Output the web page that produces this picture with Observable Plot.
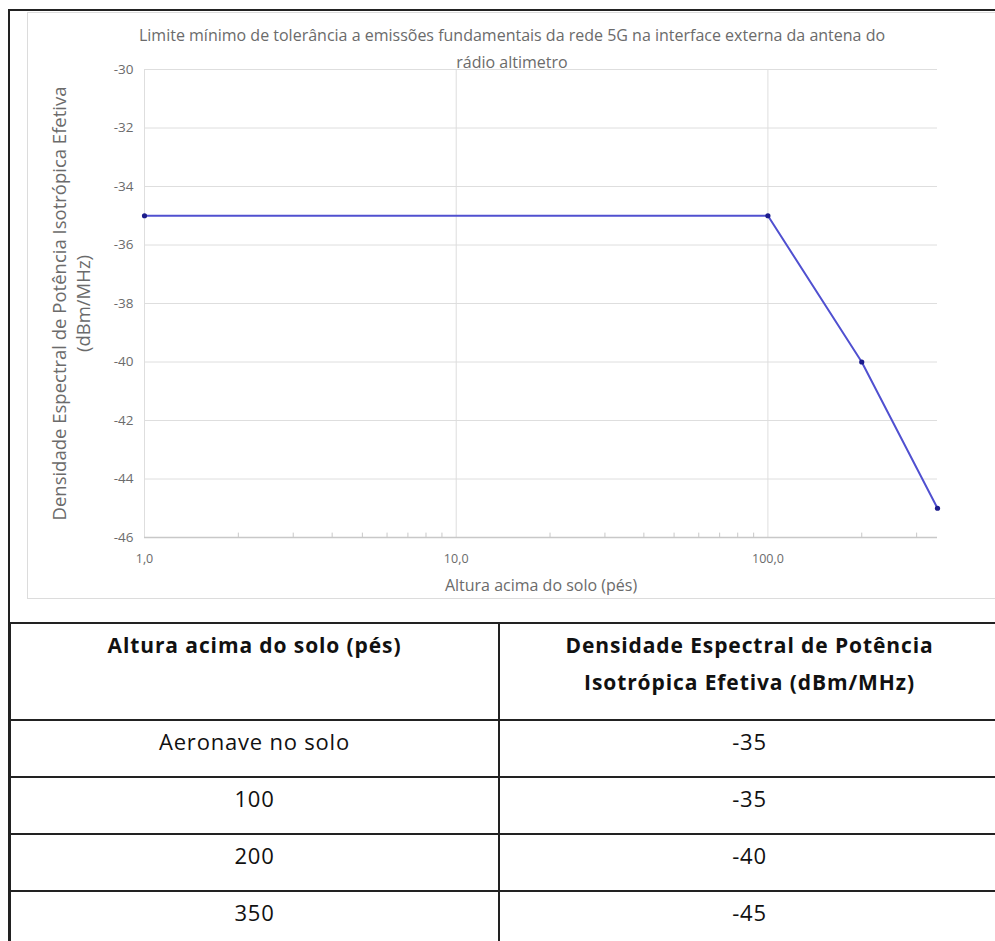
<!DOCTYPE html>
<html>
<head>
<meta charset="utf-8">
<script src="https://cdn.jsdelivr.net/npm/d3@7"></script>
<script src="https://cdn.jsdelivr.net/npm/@observablehq/plot@0.6"></script>
<style>
  html, body { margin: 0; padding: 0; background: #fff; }
  body { width: 995px; height: 941px; overflow: hidden; position: relative; font-family: "Open Sans", "Noto Sans", sans-serif; }
  #frame { position: absolute; left: 8px; top: 9px; width: 1000px; height: 940px; border-top: 2px solid #222; border-left: 2px solid #222; }
  #chartbox { position: absolute; left: 27px; top: 12px; width: 975px; height: 585px; border: 1.5px solid #dcdcdc; }
  #chart { position: absolute; left: 0; top: 0; }
  #tbl { position: absolute; left: 9px; top: 622px; width: 990px; border-collapse: collapse; table-layout: fixed; color: #111; }
  #tbl td, #tbl th { border: 2px solid #222; text-align: center; vertical-align: top; padding: 0; }
  #tbl th { font-weight: 700; font-size: 21px; letter-spacing: 0.9px; line-height: 37px; padding-top: 3px; height: 92px; }
  #tbl td { font-size: 22px; letter-spacing: 0.8px; line-height: 30px; padding-top: 5px; height: 50px; }
</style>
</head>
<body>
<div id="frame"></div>
<div id="chartbox"></div>
<div id="chart"></div>
<table id="tbl"></table>
<script>
// ---- data ----
const heights = [1, 100, 200, 350];               // feet (ground = 1 on log axis)
const heightLabels = ["Aeronave no solo", "100", "200", "350"];
const psd = [-35, -35, -40, -45];                  // dBm/MHz
const xTicks = [1, 10, 100];
const xTickLabels = ["1,0", "10,0", "100,0"];
const xMinorTicks = [2, 3, 4, 5, 6, 7, 8, 9, 20, 30, 40, 50, 60, 70, 80, 90, 200, 300];
const yTicks = [-30, -32, -34, -36, -38, -40, -42, -44, -46];
const titleLines = ["Limite mínimo de tolerância a emissões fundamentais da rede 5G na interface externa da antena do", "rádio altimetro"];
const yLabel = "Densidade Espectral de Potência Isotrópica Efetiva\n(dBm/MHz)";
const xLabel = "Altura acima do solo (pés)";
const colHeaders = ["Altura acima do solo (pés)", "Densidade Espectral de Potência<br>Isotrópica Efetiva (dBm/MHz)"];

const data = heights.map((h, i) => ({h, v: psd[i]}));
const gray = "#6b6b6b";

const plot = Plot.plot({
  width: 995,
  height: 620,
  marginLeft: 144,
  marginRight: 58,
  marginTop: 69,
  marginBottom: 83,
  style: {fontFamily: "Open Sans, Noto Sans, sans-serif", background: "transparent", overflow: "visible"},
  x: {type: "log", domain: [1, 350], label: null},
  y: {domain: [-46, -30], label: null},
  marks: [
    Plot.gridY(yTicks, {stroke: "#dedede", strokeOpacity: 1}),
    Plot.gridX(xTicks, {stroke: "#dedede", strokeOpacity: 1}),
    Plot.ruleY([-46], {stroke: "#c8c8c8", strokeWidth: 1.5}),
    Plot.ruleX(xMinorTicks, {y1: -46, y2: -45.85, stroke: "#c8c8c8"}),
    Plot.axisY(yTicks, {tickSize: 0, tickPadding: 11, fontSize: 13.5, fill: gray, label: null, tickFormat: d => String(d)}),
    Plot.axisX(xTicks, {tickSize: 0, tickPadding: 17, fontSize: 12.5, fill: gray, label: null, tickFormat: d => xTickLabels[xTicks.indexOf(d)]}),
    Plot.text([titleLines[0]], {frameAnchor: "top", lineAnchor: "middle", dx: -29, dy: -34, fontSize: 16, fill: gray}),
    Plot.text([titleLines[1]], {frameAnchor: "top", lineAnchor: "middle", dx: -29, dy: -7, fontSize: 16, fill: gray}),
    Plot.text([yLabel], {frameAnchor: "left", textAnchor: "middle", lineAnchor: "middle", dx: -74, rotate: -90, fontSize: 18.5, fill: gray, lineHeight: 1.3}),
    Plot.text([xLabel], {frameAnchor: "bottom", lineAnchor: "middle", dy: 48, fontSize: 16, fill: gray}),
    Plot.line(data, {x: "h", y: "v", stroke: "#5050d0", strokeWidth: 2}),
    Plot.dot(data, {x: "h", y: "v", r: 2.6, fill: "#1c1c8c"})
  ]
});
document.getElementById("chart").appendChild(plot);

// ---- table ----
const tbl = document.getElementById("tbl");
const colgroup = document.createElement("colgroup");
colgroup.innerHTML = '<col style="width:489px"><col style="width:501px">';
tbl.appendChild(colgroup);
const thr = document.createElement("tr");
colHeaders.forEach(h => { const th = document.createElement("th"); th.innerHTML = h; thr.appendChild(th); });
tbl.appendChild(thr);
heightLabels.forEach((lab, i) => {
  const tr = document.createElement("tr");
  const a = document.createElement("td"); a.textContent = lab;
  const b = document.createElement("td"); b.textContent = String(psd[i]);
  tr.appendChild(a); tr.appendChild(b);
  tbl.appendChild(tr);
});
</script>
</body>
</html>
